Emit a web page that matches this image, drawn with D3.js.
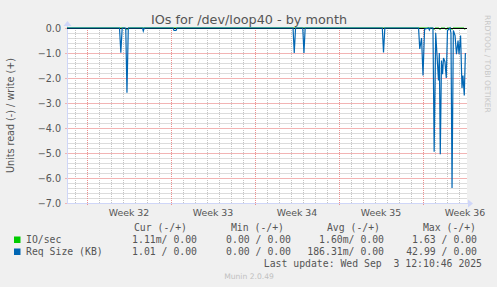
<!DOCTYPE html>
<html>

<head>
    <meta charset="utf-8">
    <style>
        body {
            margin: 0;
            background-color: #f0f0f0;
        }

        svg {
            display: block;
        }

        .grid {
            shape-rendering: crispEdges;
        }

        .sans {
            font-family: "DejaVu Sans", Verdana, sans-serif;
            fill: #555;
        }

        .mono {
            font-family: "DejaVu Sans Mono", monospace;
            font-size: 9.8px;
            fill: #555;
        }
    </style>
</head>

<body>
    <svg width="497" height="287"></svg>
</body>

<script src="https://d3js.org/d3.v7.min.js"></script>

<script>
    // days counted from monday of week 32 (x = 0)
    let reqDays = [-1.67, 2.71, 2.82, 2.93, 3.23, 3.33, 3.44, 4.63, 4.69, 4.77, 7.17, 7.25, 7.42, 7.5,
        17.17, 17.27, 17.38, 17.98, 18.08, 18.18, 24.61, 24.71, 24.82,
        27.63, 27.73, 27.88, 28.0, 28.13, 28.46, 28.53, 28.6, 28.83, 28.93, 29.06, 29.29, 29.36, 29.44,
        29.54, 29.63, 29.71, 29.83, 29.94, 30.04, 30.25, 30.33, 30.42, 30.53, 30.67, 30.79, 30.92,
        31.0, 31.13, 31.25, 31.33, 31.44, 31.53]
    let reqValues = [0, 0, -0.99, 0, 0, -2.59, 0, 0, -0.12, 0, 0, -0.1, -0.1, 0,
        0, -1.0, 0, 0, -1.0, 0, 0, -0.98, 0,
        0, -0.84, -0.4, -1.9, -0.05, 0, -0.08, 0, 0, -4.95, -0.2, -2.1, -1.0, -5.05,
        -1.3, -1.85, -1.2, -1.35, -2.0, -0.1, 0, -0.2, -6.4, -0.1, -0.3, -1.05, -0.5,
        -1.05, -0.3, -2.4, -1.9, -2.7, -1.0]

    let ioDays = [-1.67, 3.17, 3.17, 3.42, 3.42, 28.83, 28.83, 29.0, 29.0, 29.33, 29.33, 29.5, 29.5,
        29.83, 29.83, 30.0, 30.0, 30.33, 30.33, 30.5, 30.5, 31.42, 31.42, 31.53]
    let ioValues = [0, 0, -0.04, -0.04, 0, 0, -0.04, -0.04, 0, 0, -0.04, -0.04, 0,
        0, -0.04, -0.04, 0, 0, -0.04, -0.04, 0, 0, -0.04, -0.04]

    let weekLabels = ["Week 32", "Week 33", "Week 34", "Week 35", "Week 36"]

    let legendNames = ["IO/sec", "Req Size (KB)"]
    let legendColors = ["#00cc00", "#0066b3"]
    let legendHeaders = ["Cur (-/+)", "Min (-/+)", "Avg (-/+)", "Max (-/+)"]
    let legendRows = [
        ["1.11m/ 0.00", "0.00 / 0.00", "1.60m/ 0.00", "1.63 / 0.00"],
        ["1.01 / 0.00", "0.00 / 0.00", "186.31m/ 0.00", "42.99 / 0.00"]
    ]

    let svg = d3.select("svg")

    let pLeft = 67, pRight = 467, pTop = 28, pBottom = 203

    let x = d3.scaleLinear()
        .domain([-20 / 12, 380 / 12])
        .range([pLeft, pRight])

    let y = d3.scaleLinear()
        .domain([-7, 0])
        .range([pBottom, pTop])

    // canvas
    svg.append("rect")
        .attr("x", pLeft)
        .attr("y", pTop)
        .attr("width", pRight - pLeft)
        .attr("height", pBottom - pTop)
        .style("fill", "#fff")

    // minor grid
    let days = d3.range(-1, 32)
    let yMinor = d3.range(-34, 0).map(d => d / 5).filter(d => d % 1 != 0)

    svg.selectAll(".hminor")
        .data(yMinor)
        .join("line")
        .attr("class", "grid hminor")
        .attr("x1", pLeft)
        .attr("x2", pRight)
        .attr("y1", d => Math.round(y(d)) + 0.5)
        .attr("y2", d => Math.round(y(d)) + 0.5)
        .style("stroke", "#dcdcdc")

    svg.selectAll(".vminor")
        .data(days.filter(d => d % 7 != 0))
        .join("line")
        .attr("class", "grid vminor")
        .attr("x1", d => Math.round(x(d)) + 0.5)
        .attr("x2", d => Math.round(x(d)) + 0.5)
        .attr("y1", pTop)
        .attr("y2", pBottom)
        .style("stroke", "#c4c4c4")
        .style("stroke-dasharray", "1,1")

    // major grid
    svg.selectAll(".hmajor")
        .data(y.ticks(7))
        .join("line")
        .attr("class", "grid hmajor")
        .attr("x1", pLeft - 2)
        .attr("x2", pRight)
        .attr("y1", d => Math.round(y(d)) + 0.5)
        .attr("y2", d => Math.round(y(d)) + 0.5)
        .style("stroke", "#f2b4b4")

    svg.selectAll(".vmajor")
        .data(days.filter(d => d % 7 == 0))
        .join("line")
        .attr("class", "grid vmajor")
        .attr("x1", d => Math.round(x(d)) + 0.5)
        .attr("x2", d => Math.round(x(d)) + 0.5)
        .attr("y1", pTop)
        .attr("y2", pBottom + 2)
        .style("stroke", "#ec8e8e")
        .style("stroke-dasharray", "1,1")

    // y tick labels
    svg.selectAll(".ylab")
        .data(y.ticks(7))
        .join("text")
        .attr("class", "sans ylab")
        .attr("x", 61)
        .attr("y", d => y(d) + 3.5)
        .attr("text-anchor", "end")
        .style("font-size", "9.6px")
        .text(d => d3.format(".1f")(d))

    // week labels
    svg.selectAll(".week")
        .data(weekLabels)
        .join("text")
        .attr("class", "sans week")
        .attr("x", (d, i) => x(3.5 + 7 * i))
        .attr("y", 216)
        .attr("text-anchor", "middle")
        .style("font-size", "9.4px")
        .text(d => d)

    // axes
    svg.append("line")
        .attr("x1", pLeft).attr("x2", pRight + 2)
        .attr("y1", pBottom + 0.5).attr("y2", pBottom + 0.5)
        .style("stroke", "#cfd6f8")
    svg.append("path")
        .attr("d", `M${pRight + 1},${pBottom - 3.5}L${pRight + 6},${pBottom + 0.5}L${pRight + 1},${pBottom + 4.5}Z`)
        .style("fill", "#cfd6f8")
    svg.append("line")
        .attr("x1", pLeft + 0.5).attr("x2", pLeft + 0.5)
        .attr("y1", pBottom).attr("y2", pTop - 3)
        .style("stroke", "#cfd6f8")
    svg.append("path")
        .attr("d", `M${pLeft - 3.5},${pTop - 2}L${pLeft + 0.5},${pTop - 7}L${pLeft + 4.5},${pTop - 2}Z`)
        .style("fill", "#cfd6f8")

    let line = d3.line()
        .x(d => x(d[0]))
        .y(d => y(d[1]))

    // IO/sec
    svg.append("path")
        .datum(ioDays.map((d, i) => [d, ioValues[i]]))
        .attr("d", line)
        .style("fill", "none")
        .style("stroke", legendColors[0])
        .style("stroke-width", 1)

    // zero rule
    svg.append("line")
        .attr("x1", pLeft).attr("x2", pRight)
        .attr("y1", y(0) + 0.5).attr("y2", y(0) + 0.5)
        .style("stroke", "#000")

    // Req size
    svg.append("path")
        .datum(reqDays.map((d, i) => [d, reqValues[i]]))
        .attr("d", line)
        .style("fill", "none")
        .style("stroke", legendColors[1])
        .style("stroke-width", 1.2)
        .style("stroke-linejoin", "miter")

    // title + labels
    svg.append("text")
        .attr("class", "sans")
        .attr("x", 249)
        .attr("y", 24)
        .attr("text-anchor", "middle")
        .style("font-size", "12.8px")
        .text("IOs for /dev/loop40 - by month")

    svg.append("text")
        .attr("class", "sans")
        .attr("transform", "translate(14,115.5) rotate(-90)")
        .attr("text-anchor", "middle")
        .style("font-size", "9.6px")
        .text("Units read (-) / write (+)")

    svg.append("text")
        .attr("class", "sans")
        .attr("transform", "translate(485,15) rotate(90)")
        .attr("text-anchor", "start")
        .style("font-size", "7.6px")
        .style("fill", "#c8c8c8")
        .text("RRDTOOL / TOBI OETIKER")

    // legend
    let headEnds = [187, 284, 380, 476]
    let valEnds = [197, 291, 384, 477]

    svg.selectAll(".head")
        .data(legendHeaders)
        .join("text")
        .attr("class", "mono head")
        .attr("x", (d, i) => headEnds[i])
        .attr("y", 231)
        .attr("text-anchor", "end")
        .text(d => d)

    legendNames.forEach((name, r) => {
        let yy = 243 + r * 12
        svg.append("rect")
            .attr("x", 14).attr("y", yy - 6.5)
            .attr("width", 6.5).attr("height", 6.5)
            .style("fill", legendColors[r])
        svg.append("text")
            .attr("class", "mono")
            .attr("x", 26)
            .attr("y", yy)
            .text(name)
        legendRows[r].forEach((v, c) => {
            svg.append("text")
                .attr("class", "mono")
                .attr("x", valEnds[c])
                .attr("y", yy)
                .attr("text-anchor", "end")
                .style("white-space", "pre")
                .text(v)
        })
    })

    svg.append("text")
        .attr("class", "mono")
        .attr("x", 482)
        .attr("y", 267)
        .attr("text-anchor", "end")
        .style("white-space", "pre")
        .text("Last update: Wed Sep  3 12:10:46 2025")

    svg.append("text")
        .attr("class", "sans")
        .attr("x", 249)
        .attr("y", 279)
        .attr("text-anchor", "middle")
        .style("font-size", "7.6px")
        .style("fill", "#c0c0c0")
        .text("Munin 2.0.49")
</script>

</html>
